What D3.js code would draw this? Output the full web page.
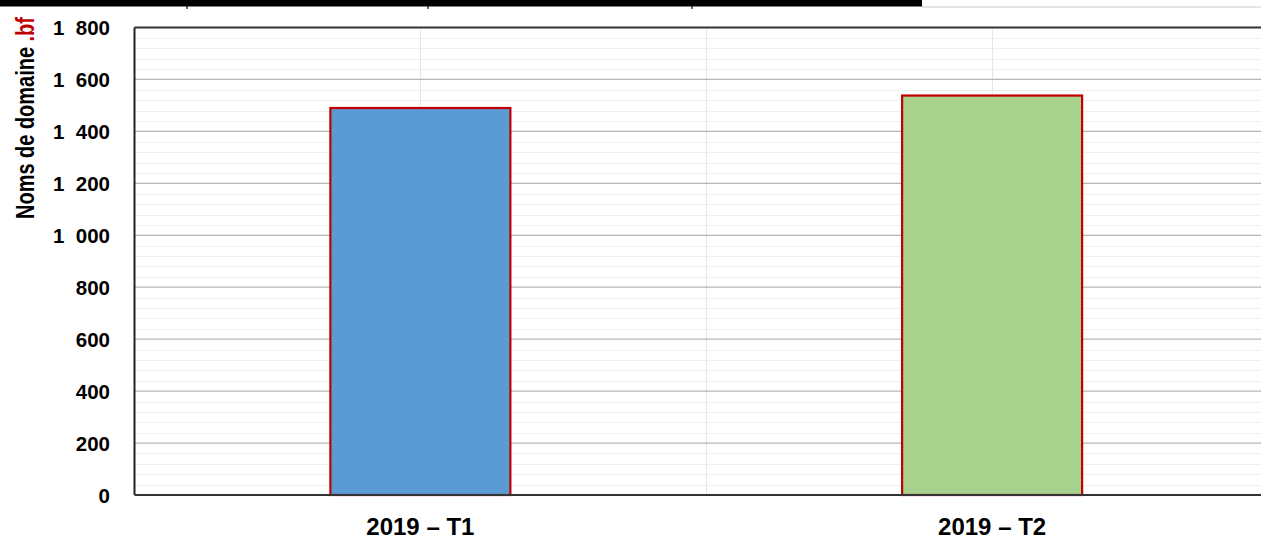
<!DOCTYPE html>
<html>
<head>
<meta charset="utf-8">
<script src="https://cdn.jsdelivr.net/npm/d3@7.9.0/dist/d3.min.js"></script>
<style>
  html, body { margin: 0; padding: 0; background: #fff; }
  svg { display: block; font-family: "Liberation Sans", Arial, sans-serif; }
</style>
</head>
<body>
<svg id="chart" width="1261" height="539"></svg>
<script>
const categories = ['2019 – T1', '2019 – T2'];
const values = [1490, 1538];
const barColors = ['#5b9bd5', '#a9d18e'];
const majorTicks = [0, 200, 400, 600, 800, 1000, 1200, 1400, 1600, 1800];
const tickLabels = ['0', '200', '400', '600', '800', '1  000', '1  200', '1  400', '1  600', '1  800'];

const svg = d3.select('#chart');
const margin = { left: 134.5, top: 27.5, bottom: 495 };
const plotRight = 1278;

let x = d3.scaleBand().domain(categories).range([margin.left, plotRight]);
let y = d3.scaleLinear().domain([0, 1800]).range([margin.bottom, margin.top]);

// leftover table border at the very top
svg.append('rect').attr('x', 0).attr('y', 0).attr('width', 922).attr('height', 6.5).attr('fill', '#000');
[187, 428, 692].forEach((px) => {
    svg.append('line').attr('x1', px).attr('x2', px).attr('y1', 0).attr('y2', 9)
        .attr('stroke', '#000').attr('stroke-width', 1.2);
});
svg.append('line').attr('x1', 922).attr('x2', 1261).attr('y1', 7).attr('y2', 7)
    .attr('stroke', '#dcdcdc').attr('stroke-width', 1.5);

// minor grid
let minor = d3.range(40, 1800, 40).filter((v) => v % 200 !== 0);
svg.append('g').selectAll('line').data(minor).join('line')
    .attr('x1', margin.left).attr('x2', plotRight)
    .attr('y1', (d) => Math.round(y(d)) + 0.5).attr('y2', (d) => Math.round(y(d)) + 0.5)
    .attr('stroke', '#f0f0f0').attr('stroke-width', 1);

// vertical grid at category centers and boundaries
let vLines = [x(categories[0]) + x.bandwidth() / 2, x(categories[1]), x(categories[1]) + x.bandwidth() / 2];
svg.append('g').selectAll('line').data(vLines).join('line')
    .attr('x1', (d) => Math.round(d) + 0.5).attr('x2', (d) => Math.round(d) + 0.5)
    .attr('y1', margin.top).attr('y2', margin.bottom)
    .attr('stroke', '#e6e6e6').attr('stroke-width', 1);

// major grid
svg.append('g').selectAll('line').data(majorTicks.slice(1, -1)).join('line')
    .attr('x1', margin.left).attr('x2', plotRight)
    .attr('y1', (d) => y(d)).attr('y2', (d) => y(d))
    .attr('stroke', '#b5b5b5').attr('stroke-width', 1.3);

// bars
const barW = 180;
svg.append('g').selectAll('rect').data(values).join('rect')
    .attr('x', (d, i) => x(categories[i]) + x.bandwidth() / 2 - barW / 2)
    .attr('y', (d) => y(d))
    .attr('width', barW)
    .attr('height', (d) => y(0) - y(d))
    .attr('fill', (d, i) => barColors[i])
    .attr('stroke', '#c00000')
    .attr('stroke-width', 2.2);

// plot frame: top, left, bottom
svg.append('line').attr('x1', margin.left).attr('x2', plotRight).attr('y1', margin.top).attr('y2', margin.top)
    .attr('stroke', '#333').attr('stroke-width', 1.8);
svg.append('line').attr('x1', margin.left).attr('x2', margin.left).attr('y1', margin.top).attr('y2', margin.bottom)
    .attr('stroke', '#222').attr('stroke-width', 2);
svg.append('line').attr('x1', margin.left).attr('x2', plotRight).attr('y1', margin.bottom).attr('y2', margin.bottom)
    .attr('stroke', '#333').attr('stroke-width', 2.2);

// y tick labels
svg.append('g').selectAll('text').data(majorTicks).join('text')
    .attr('x', 110)
    .attr('y', (d) => y(d) + 7.5)
    .attr('text-anchor', 'end')
    .attr('font-size', 20.5)
    .attr('font-weight', 'bold')
    .attr('fill', '#000')
    .style('white-space', 'pre')
    .text((d, i) => tickLabels[i]);

// x labels
svg.append('g').selectAll('text').data(categories).join('text')
    .attr('x', (d) => x(d) + x.bandwidth() / 2)
    .attr('y', 535)
    .attr('text-anchor', 'middle')
    .attr('font-size', 24)
    .attr('font-weight', 'bold')
    .attr('fill', '#000')
    .text((d) => d);

// y axis title, squeezed horizontally to look like a narrow face
let title = svg.append('text')
    .attr('text-anchor', 'middle')
    .attr('font-size', 26)
    .attr('font-weight', 'bold');
title.append('tspan').attr('fill', '#000').text('Noms de domaine ');
title.append('tspan').attr('fill', '#c00000').text('.bf');
let natural = title.node().getComputedTextLength();
let squeeze = 202 / natural;
title.attr('transform', `translate(34,118) rotate(-90) scale(${squeeze},1)`);
</script>
</body>
</html>
